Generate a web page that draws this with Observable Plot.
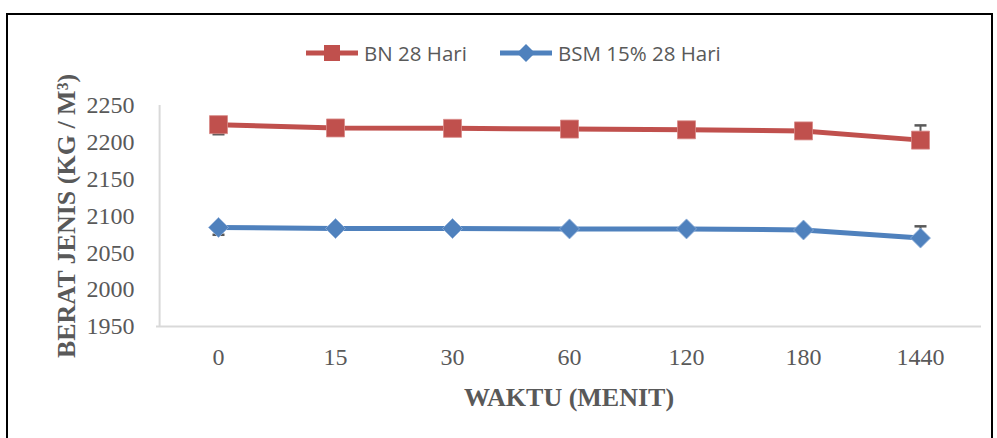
<!DOCTYPE html>
<html>
<head>
<meta charset="utf-8">
<script src="https://cdn.jsdelivr.net/npm/d3@7"></script>
<script src="https://cdn.jsdelivr.net/npm/@observablehq/plot@0.6"></script>
<style>
  html, body { margin: 0; padding: 0; background: #fff; }
  #wrap { position: relative; width: 997px; height: 438px; overflow: hidden; background: #fff; }
  #border { position: absolute; left: 6px; top: 13px; width: 987px; height: 440px; border: 2px solid #000; box-sizing: border-box; }
  #legend { position: absolute; left: 0; top: 38px; width: 997px; height: 30px; }
  .item { position: absolute; top: 0; height: 30px; display: flex; align-items: center; }
  .item span { font-family: "Liberation Sans Narrow", "Open Sans", sans-serif; font-size: 20.5px; color: #595959; margin-left: 6px; }
  #chart { position: absolute; left: 0; top: 70px; }
</style>
</head>
<body>
<div id="wrap">
  <div id="border"></div>
  <div id="legend"></div>
  <div id="chart"></div>
</div>
<script>
const categories = ["0", "15", "30", "60", "120", "180", "1440"];
const seriesNames = ["BN 28 Hari", "BSM 15% 28 Hari"];
const bnValues = [2224, 2219.5, 2219, 2218, 2217, 2215.5, 2203];
const bsmValues = [2084.5, 2083, 2083, 2082.5, 2082.5, 2081, 2070];
const bnErrMinus = [13, 0, 0, 0, 0, 0, 0];
const bnErrPlus = [0, 0, 0, 0, 0, 0, 20];
const bsmErrMinus = [10, 0, 0, 0, 0, 0, 0];
const bsmErrPlus = [0, 0, 0, 0, 0, 0, 16];
const yTicks = [1950, 2000, 2050, 2100, 2150, 2200, 2250];
const colors = ["#C0504D", "#4F81BD"];

const rows = [];
categories.forEach((c, i) => {
  rows.push({series: seriesNames[0], x: c, y: bnValues[i], lo: bnValues[i] - bnErrMinus[i], hi: bnValues[i] + bnErrPlus[i]});
});
categories.forEach((c, i) => {
  rows.push({series: seriesNames[1], x: c, y: bsmValues[i], lo: bsmValues[i] - bsmErrMinus[i], hi: bsmValues[i] + bsmErrPlus[i]});
});
const errLow = rows.filter(d => d.lo < d.y).map(d => ({x: d.x, y1: d.y, y2: d.lo}));
const errHigh = rows.filter(d => d.hi > d.y).map(d => ({x: d.x, y1: d.y, y2: d.hi}));
const errBars = errLow.concat(errHigh);

const capSymbol = { draw(ctx, size) { ctx.moveTo(-6, 0); ctx.lineTo(6, 0); } };
const squareSymbol = { draw(ctx, size) { const h = 9; ctx.moveTo(-h, -h); ctx.lineTo(h, -h); ctx.lineTo(h, h); ctx.lineTo(-h, h); ctx.closePath(); } };
const diamondSymbol = { draw(ctx, size) { const h = 10; ctx.moveTo(0, -h); ctx.lineTo(h, 0); ctx.lineTo(0, h); ctx.lineTo(-h, 0); ctx.closePath(); } };

const serif = "'Liberation Serif', 'Times New Roman', serif";

const plot = Plot.plot({
  width: 997,
  height: 368,
  marginTop: 35,
  marginBottom: 112,
  marginLeft: 156,
  marginRight: 16,
  style: { fontFamily: serif, fontSize: "24px", color: "#595959", background: "transparent", overflow: "visible" },
  x: { type: "point", domain: categories, padding: 0.5, label: null, tickSize: 0, tickPadding: 21 },
  y: { domain: [1950, 2250], ticks: yTicks, label: null, tickSize: 0, tickPadding: 22, tickFormat: d => String(d) },
  color: { domain: seriesNames, range: colors },
  marks: [
    Plot.ruleX([0], { x: () => categories[0], y1: 1950, y2: 2250, stroke: "#D9D9D9", strokeWidth: 2, dx: -58.9 }),
    Plot.ruleY([1950], { stroke: "#D9D9D9", strokeWidth: 2 }),
    Plot.ruleX(errBars, { x: "x", y1: "y1", y2: "y2", stroke: "#595959", strokeWidth: 2 }),
    Plot.dot(errBars, { x: "x", y: "y2", symbol: capSymbol, stroke: "#595959", strokeWidth: 2.5, r: 6 }),
    Plot.line(rows, { x: "x", y: "y", z: "series", stroke: "series", strokeWidth: 5 }),
    Plot.dot(rows.filter(d => d.series === seriesNames[0]), { x: "x", y: "y", symbol: squareSymbol, fill: colors[0], stroke: "#D88A88", strokeWidth: 0.8, r: 9 }),
    Plot.dot(rows.filter(d => d.series === seriesNames[1]), { x: "x", y: "y", symbol: diamondSymbol, fill: colors[1], stroke: "#8FAFD9", strokeWidth: 0.8, r: 9 }),
    Plot.text(["BERAT JENIS (KG / M³)"], { frameAnchor: "left", textAnchor: "middle", lineAnchor: "middle", rotate: -90, dx: -90, text: d => d, fontWeight: "bold", fontSize: 26, fill: "#595959", fontFamily: serif }),
    Plot.text(["WAKTU (MENIT)"], { frameAnchor: "bottom", textAnchor: "middle", lineAnchor: "middle", dy: 71, text: d => d, fontWeight: "bold", fontSize: 26, fill: "#595959", fontFamily: serif })
  ]
});
document.getElementById("chart").appendChild(plot);

// Legend
const legend = document.getElementById("legend");
const legendPos = [306, 500];
seriesNames.forEach((name, i) => {
  const item = document.createElement("div");
  item.className = "item";
  item.style.left = legendPos[i] + "px";
  const sym = i === 0
    ? `<rect x="18" y="7" width="16" height="16" fill="${colors[0]}"/>`
    : `<path d="M26,6 L35,15 L26,24 L17,15 Z" fill="${colors[1]}"/>`;
  item.innerHTML = `<svg width="52" height="30"><line x1="0" x2="52" y1="15" y2="15" stroke="${colors[i]}" stroke-width="5"/>${sym}</svg><span>${name}</span>`;
  legend.appendChild(item);
});
</script>
</body>
</html>
